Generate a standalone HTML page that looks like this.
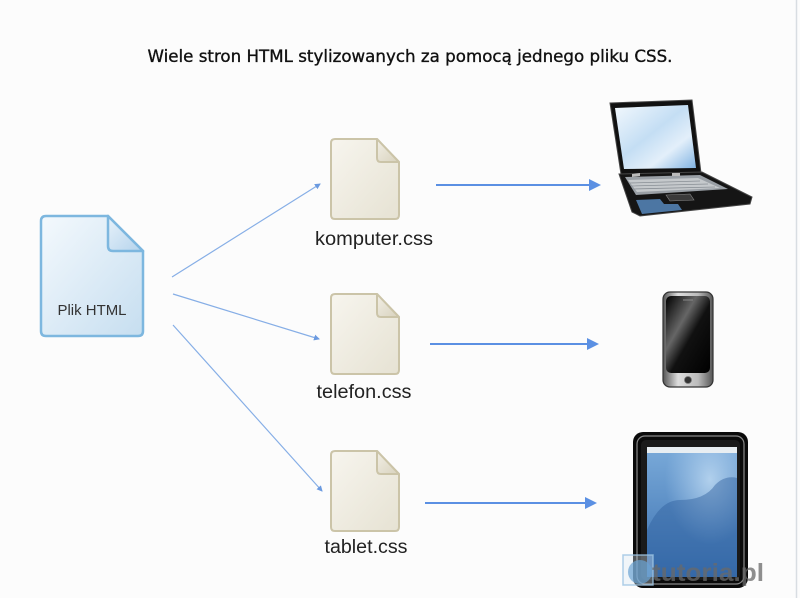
<!DOCTYPE html>
<html><head><meta charset="utf-8">
<style>
html,body{margin:0;padding:0;background:#fcfcfc;}
svg{display:block;}
</style></head>
<body>
<svg width="800" height="598" viewBox="0 0 800 598" xmlns="http://www.w3.org/2000/svg">
<defs>
<linearGradient id="htmlg" x1="0" y1="0" x2="1" y2="1">
<stop offset="0" stop-color="#f4f9fd"/><stop offset="1" stop-color="#c6def0"/>
</linearGradient>
<linearGradient id="foldb" x1="0" y1="0" x2="1" y2="1">
<stop offset="0" stop-color="#e8f2fa"/><stop offset="1" stop-color="#b4d3ec"/>
</linearGradient>
<linearGradient id="cssg" x1="0" y1="0" x2="1" y2="1">
<stop offset="0" stop-color="#f7f5ee"/><stop offset="1" stop-color="#e6e2d3"/>
</linearGradient>
<linearGradient id="foldc" x1="0" y1="0" x2="1" y2="1">
<stop offset="0" stop-color="#f2efe6"/><stop offset="1" stop-color="#d8d2bd"/>
</linearGradient>
<linearGradient id="scr" x1="0" y1="0" x2="1" y2="1">
<stop offset="0" stop-color="#f2f8fd"/><stop offset="0.45" stop-color="#c4def4"/><stop offset="0.7" stop-color="#e3effa"/><stop offset="1" stop-color="#7fb2e2"/>
</linearGradient>
<linearGradient id="phs" x1="0" y1="0" x2="1" y2="1">
<stop offset="0" stop-color="#000"/><stop offset="0.35" stop-color="#666"/><stop offset="0.55" stop-color="#111"/><stop offset="1" stop-color="#000"/>
</linearGradient>
<linearGradient id="silver" x1="0" y1="0" x2="1" y2="0">
<stop offset="0" stop-color="#555"/><stop offset="0.3" stop-color="#ddd"/><stop offset="0.7" stop-color="#bbb"/><stop offset="1" stop-color="#555"/>
</linearGradient>
<linearGradient id="tabs" x1="0" y1="0" x2="0" y2="1">
<stop offset="0" stop-color="#7aaad9"/><stop offset="1" stop-color="#3a70b0"/>
</linearGradient>
<radialGradient id="tabglow" cx="0.7" cy="0.25" r="0.5">
<stop offset="0" stop-color="#b9d6f0" stop-opacity="0.9"/><stop offset="1" stop-color="#a9cbec" stop-opacity="0"/>
</radialGradient>
<marker id="ah" markerWidth="6" markerHeight="6" refX="5" refY="3" orient="auto" markerUnits="userSpaceOnUse">
<path d="M0,0 L6,3 L0,6 z" fill="#6b9ae0"/>
</marker>
</defs>

<rect x="0" y="0" width="800" height="598" fill="#fcfcfc"/>
<line x1="796.5" y1="0" x2="796.5" y2="598" stroke="#d8dde2" stroke-width="1.5"/>

<text x="410" y="62" text-anchor="middle" font-family="DejaVu Sans, sans-serif" font-size="17" fill="#111" stroke="#111" stroke-width="0.35" textLength="525" lengthAdjust="spacingAndGlyphs">Wiele stron HTML stylizowanych za pomocą jednego pliku CSS.</text>

<!-- HTML file -->
<path d="M46,216 L108,216 L143,251 L143,331 Q143,336 138,336 L46,336 Q41,336 41,331 L41,221 Q41,216 46,216 Z" fill="url(#htmlg)" stroke="#7db7df" stroke-width="2.5"/>
<path d="M108,216 L108,246 Q108,251 113,251 L143,251 Z" fill="url(#foldb)" stroke="#7db7df" stroke-width="2.5" stroke-linejoin="round"/>
<text x="92" y="315" text-anchor="middle" font-family="Liberation Sans, sans-serif" font-size="15" fill="#333" textLength="69" lengthAdjust="spacingAndGlyphs">Plik HTML</text>

<!-- thin arrows -->
<line x1="172" y1="277" x2="320" y2="184" stroke="#86aee6" stroke-width="1.2" marker-end="url(#ah)"/>
<line x1="173" y1="294" x2="319" y2="339" stroke="#86aee6" stroke-width="1.2" marker-end="url(#ah)"/>
<line x1="173" y1="325" x2="322" y2="491" stroke="#86aee6" stroke-width="1.2" marker-end="url(#ah)"/>

<!-- CSS files -->
<g>
<path d="M335,139 L377,139 L399,162 L399,215 Q399,219 395,219 L335,219 Q331,219 331,215 L331,143 Q331,139 335,139 Z" fill="url(#cssg)" stroke="#cbc4a8" stroke-width="2"/>
<path d="M377,139 L377,158 Q377,162 381,162 L399,162 Z" fill="url(#foldc)" stroke="#cbc4a8" stroke-width="2" stroke-linejoin="round"/>
</g>
<g transform="translate(0,155)">
<path d="M335,139 L377,139 L399,162 L399,215 Q399,219 395,219 L335,219 Q331,219 331,215 L331,143 Q331,139 335,139 Z" fill="url(#cssg)" stroke="#cbc4a8" stroke-width="2"/>
<path d="M377,139 L377,158 Q377,162 381,162 L399,162 Z" fill="url(#foldc)" stroke="#cbc4a8" stroke-width="2" stroke-linejoin="round"/>
</g>
<g transform="translate(0,312)">
<path d="M335,139 L377,139 L399,162 L399,215 Q399,219 395,219 L335,219 Q331,219 331,215 L331,143 Q331,139 335,139 Z" fill="url(#cssg)" stroke="#cbc4a8" stroke-width="2"/>
<path d="M377,139 L377,158 Q377,162 381,162 L399,162 Z" fill="url(#foldc)" stroke="#cbc4a8" stroke-width="2" stroke-linejoin="round"/>
</g>

<text x="374" y="245" text-anchor="middle" font-family="Liberation Sans, sans-serif" font-size="19" fill="#222" textLength="118" lengthAdjust="spacingAndGlyphs">komputer.css</text>
<text x="364" y="398" text-anchor="middle" font-family="Liberation Sans, sans-serif" font-size="19" fill="#222" textLength="95" lengthAdjust="spacingAndGlyphs">telefon.css</text>
<text x="366" y="553" text-anchor="middle" font-family="Liberation Sans, sans-serif" font-size="19" fill="#222" textLength="83" lengthAdjust="spacingAndGlyphs">tablet.css</text>

<!-- thick arrows -->
<line x1="436" y1="185" x2="590" y2="185" stroke="#5b90e3" stroke-width="2"/>
<path d="M589,179 L601,185 L589,191 Z" fill="#5b90e3"/>
<line x1="430" y1="344" x2="588" y2="344" stroke="#5b90e3" stroke-width="2"/>
<path d="M587,338 L599,344 L587,350 Z" fill="#5b90e3"/>
<line x1="425" y1="503" x2="586" y2="503" stroke="#5b90e3" stroke-width="2"/>
<path d="M585,497 L597,503 L585,509 Z" fill="#5b90e3"/>

<!-- Laptop -->
<path d="M610,103 L692,100 L701,173 L621,174 Z" fill="#111" stroke="#444" stroke-width="1"/>
<path d="M615,108 L688,105 L696,168 L624,169 Z" fill="url(#scr)"/>
<path d="M619,174 L702,172 L752,197 L750,204 L640,216 L632,212 Z" fill="#151515" stroke="#444" stroke-width="1"/>
<path d="M625,177 L700,175 L728,189 L636,195 Z" fill="#9aa0a6"/>
<path d="M628,180 L698,178 L720,188 L637,192 Z" fill="#c5c9cc"/>
<path d="M630,183 L700,181 M631,186 L708,184 M633,189 L715,187" stroke="#8a9096" stroke-width="0.8"/>
<path d="M666,195 L690,194 L694,200 L670,201 Z" fill="#3a3a3a" stroke="#888" stroke-width="0.6"/>
<path d="M636,200 L660,199 L664,204 L678,204 L682,210 L642,214 Z" fill="#5a8fc7" opacity="0.8"/>
<path d="M632,174 L640,173 L640,176 L632,177 Z M672,173 L680,173 L680,176 L672,176 Z" fill="#bbb"/>

<!-- Phone -->
<rect x="663" y="292" width="50" height="95" rx="7" fill="url(#silver)" stroke="#333" stroke-width="1.2"/>
<rect x="666" y="296" width="44" height="77" rx="5" fill="url(#phs)"/>
<line x1="683" y1="300" x2="693" y2="300" stroke="#888" stroke-width="1"/>
<circle cx="688" cy="380" r="3.5" fill="#333" stroke="#777" stroke-width="0.8"/>

<!-- Tablet -->
<rect x="633" y="432" width="115" height="156" rx="10" fill="#0a0a0a"/>
<rect x="637" y="436" width="107" height="148" rx="8" fill="none" stroke="#888" stroke-width="1.2"/>
<rect x="641" y="440" width="99" height="140" rx="5" fill="#1a1a1a"/>
<rect x="647" y="447" width="90" height="130" fill="url(#tabs)"/>
<rect x="647" y="447" width="90" height="130" fill="url(#tabglow)"/>
<path d="M647,530 Q660,500 680,500 Q705,500 715,485 Q725,475 737,478 L737,577 L647,577 Z" fill="#2f5f9e" opacity="0.45"/>
<rect x="647" y="447" width="90" height="6" fill="#e8eef2"/>

<!-- watermark -->
<rect x="623" y="555" width="30" height="30" fill="#dbe8f3" fill-opacity="0.35" stroke="#9cc3e2" stroke-width="1.5" stroke-opacity="0.8"/>
<circle cx="640" cy="572" r="12" fill="#6aa3d3" fill-opacity="0.7"/>
<text x="652" y="581" font-family="Liberation Sans, sans-serif" font-size="25" font-weight="bold" fill="#6a6a6a" fill-opacity="0.75" textLength="112" lengthAdjust="spacingAndGlyphs">tutoria.pl</text>
</svg>
</body></html>
